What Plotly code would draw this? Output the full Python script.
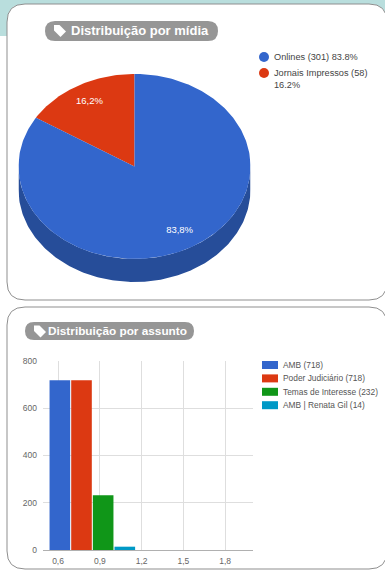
import math
import plotly.graph_objects as go

W, H = 385, 570

# Media breakdown
media_names = ["Jornais Impressos", "Onlines"]
media_counts = [58, 301]
media_colors = ["#dc3912", "#3366cc"]
media_side = "#264d99"
media_labels = ["16,2%", "83,8%"]

# Subject breakdown
subject_names = ["AMB", "Poder Judiciário", "Temas de Interesse", "AMB | Renata Gil"]
subject_counts = [718, 718, 232, 14]
subject_colors = ["#3366cc", "#dc3912", "#109618", "#0099c6"]
x_ticks = [0.6, 0.9, 1.2, 1.5, 1.8]
y_ticks = [0, 200, 400, 600, 800]
group_x = 0.85
bar_step = 0.1555
bar_width = 0.148

FONT = "Liberation Sans, Arial, sans-serif"


def fx(px):
    return px / W


def fy(py):
    return 1 - py / H


def rounded(x0, y0, x1, y1, r):
    return (
        f"M{fx(x0 + r)},{fy(y0)} L{fx(x1 - r)},{fy(y0)} "
        f"Q{fx(x1)},{fy(y0)} {fx(x1)},{fy(y0 + r)} L{fx(x1)},{fy(y1 - r)} "
        f"Q{fx(x1)},{fy(y1)} {fx(x1 - r)},{fy(y1)} L{fx(x0 + r)},{fy(y1)} "
        f"Q{fx(x0)},{fy(y1)} {fx(x0)},{fy(y1 - r)} L{fx(x0)},{fy(y0 + r)} "
        f"Q{fx(x0)},{fy(y0)} {fx(x0 + r)},{fy(y0)} Z"
    )


def tag_icon(x, y):
    pts = [(0, 0), (5.5, 0), (12, 6.5), (6.5, 12), (0, 5.5)]
    return "M" + " L".join(f"{fx(x + a)},{fy(y + b)}" for a, b in pts) + " Z"


shapes = [
    dict(type="rect", xref="paper", yref="paper", x0=0, x1=1, y0=fy(36), y1=1,
         fillcolor="#b9dedd", line_width=0, layer="below"),
]
for box in [(7, 4, 387, 300, 18), (7, 307, 387, 569, 18)]:
    shapes.append(dict(type="path", xref="paper", yref="paper", path=rounded(*box),
                       fillcolor="white", line=dict(color="#8f8f8f", width=1), layer="below"))
for box in [(45, 21, 218, 41, 10), (25, 322, 194, 340, 9)]:
    shapes.append(dict(type="path", xref="paper", yref="paper", path=rounded(*box),
                       fillcolor="#969696", line_width=0, layer="below"))
for ix, iy in [(54, 25), (34, 325.5)]:
    shapes.append(dict(type="path", xref="paper", yref="paper", path=tag_icon(ix, iy),
                       fillcolor="white", line_width=0, layer="below"))

annotations = []


def text(px, py, s, size, color, bold=False, anchor="left"):
    annotations.append(dict(
        xref="paper", yref="paper", x=fx(px), y=fy(py), text=f"<b>{s}</b>" if bold else s,
        showarrow=False, xanchor=anchor, yanchor="middle", align="left",
        font=dict(family=FONT, size=size, color=color), borderpad=0,
    ))


text(69.5, 31, "Distribuição por mídia", 13, "white", bold=True)
text(47, 331, "Distribuição por assunto", 11.8, "white", bold=True)

# Circle keys for the media chart
total = sum(media_counts)
legend_rows = [
    (57, media_colors[1], f"{media_names[1]} ({media_counts[1]}) {media_counts[1] / total * 100:.1f}%"),
    (73, media_colors[0], f"{media_names[0]} ({media_counts[0]})"),
]
for py, color, label in legend_rows:
    shapes.append(dict(type="circle", xref="paper", yref="paper",
                       x0=fx(259), x1=fx(269), y0=fy(py + 5), y1=fy(py - 5),
                       fillcolor=color, line_width=0))
    text(272.5, py, label, 9.2, "#444444")
text(272.5, 85, f"{media_counts[0] / total * 100:.1f}%", 9.2, "#444444")

# Rectangle keys for the subject chart
for i, (name, count, color) in enumerate(zip(subject_names, subject_counts, subject_colors)):
    py = 365 + i * 13.4
    shapes.append(dict(type="rect", xref="paper", yref="paper",
                       x0=fx(262), x1=fx(278), y0=fy(py + 4), y1=fy(py - 4),
                       fillcolor=color, line_width=0))
    text(282, py, f"{name} ({count})", 8.4, "#555555")

fig = go.Figure()

# Tilted pie on a unit circle: the axis domain squeezes it into an ellipse.
depth = 0.25
seg = 180
lower = [math.pi + math.pi * k / seg for k in range(seg + 1)]
xs = [math.cos(a) for a in lower]
ys = [math.sin(a) for a in lower]
fig.add_trace(go.Scatter(
    x=xs + xs[::-1], y=[v - depth for v in ys] + ys[::-1],
    xaxis="x2", yaxis="y2", mode="lines", fill="toself", fillcolor=media_side,
    line=dict(width=0), hoverinfo="skip", showlegend=False,
))
start = 0.0
for name, count, color, label in zip(media_names, media_counts, media_colors, media_labels):
    sweep = count / total * 2 * math.pi
    n = max(2, int(sweep * 60))
    angles = [start + sweep * k / n for k in range(n + 1)]
    px_ = [0.0] + [-math.sin(a) for a in angles] + [0.0]
    py_ = [0.0] + [math.cos(a) for a in angles] + [0.0]
    fig.add_trace(go.Scatter(
        x=px_, y=py_, xaxis="x2", yaxis="y2", mode="lines", fill="toself",
        fillcolor=color, line=dict(width=0), name=name, showlegend=False,
        hovertemplate=f"{name}: {count}<extra></extra>",
    ))
    mid = start + sweep / 2
    fig.add_trace(go.Scatter(
        x=[-math.sin(mid) * 0.8], y=[math.cos(mid) * 0.8], xaxis="x2", yaxis="y2",
        mode="text", text=[label], textposition="middle center",
        textfont=dict(family=FONT, size=9.5, color="white"),
        hoverinfo="skip", showlegend=False,
    ))
    start += sweep

# Grouped columns
for i, (name, count, color) in enumerate(zip(subject_names, subject_counts, subject_colors)):
    fig.add_trace(go.Bar(
        x=[group_x], y=[count], name=name, marker=dict(color=color, line_width=0),
        width=bar_width, offset=(i - 2) * bar_step, showlegend=False,
    ))

fig.update_layout(
    width=W, height=H, autosize=False,
    margin=dict(l=0, r=0, t=0, b=0, pad=0, autoexpand=False),
    paper_bgcolor="white", plot_bgcolor="rgba(0,0,0,0)", showlegend=False,
    barmode="overlay", separators=",.", shapes=shapes, annotations=annotations,
    xaxis=dict(
        domain=[fx(43), fx(253)], range=[0.492, 2.0], tickmode="array",
        tickvals=x_ticks, tickformat=".1f", showgrid=True, gridcolor="#dedede", gridwidth=1,
        zeroline=False, showline=False, ticks="", automargin=False, ticklabelstandoff=4,
        tickfont=dict(family=FONT, size=8.5, color="#666666"), anchor="y",
    ),
    yaxis=dict(
        domain=[fy(550), fy(361)], range=[0, 800], tickmode="array", tickvals=y_ticks,
        showgrid=True, gridcolor="#dedede", gridwidth=1, zeroline=True, automargin=False,
        zerolinecolor="#b0b0b0", zerolinewidth=1, showline=False, ticks="", ticklabelstandoff=5,
        tickfont=dict(family=FONT, size=8.5, color="#666666"), anchor="x",
    ),
    xaxis2=dict(domain=[fx(18.5), fx(250.5)], range=[-1, 1], visible=False, anchor="y2", fixedrange=True),
    yaxis2=dict(domain=[fy(282), fy(74)], range=[-1 - depth, 1], visible=False, anchor="x2", fixedrange=True),
)

fig.write_html("out.html", config=dict(displayModeBar=False))
